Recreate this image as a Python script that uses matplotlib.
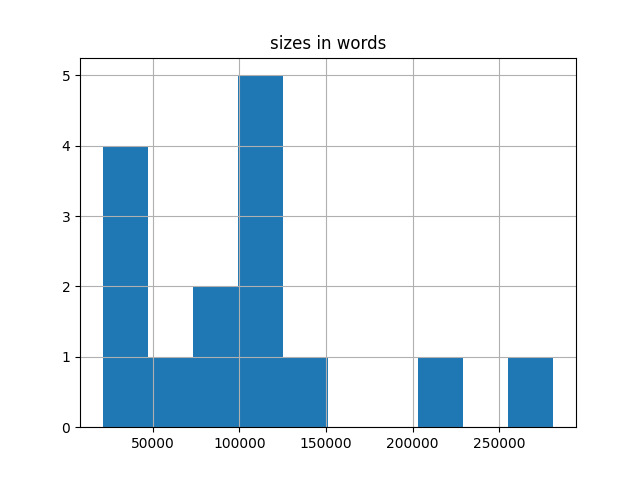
import numpy as np
import matplotlib
matplotlib.use("Agg")
import matplotlib.pyplot as plt

# word counts per document
sizes = [21100, 30000, 38000, 45000,
         60000,
         80000, 92000,
         102000, 105000, 110000, 115000, 120000,
         135000,
         215000,
         281200]

fig, ax = plt.subplots(figsize=(6.4, 4.8), dpi=100)
ax.hist(sizes, bins=10, color="#1f77b4")
ax.grid(True)
ax.set_title("sizes in words")
fig.savefig("out.png")
